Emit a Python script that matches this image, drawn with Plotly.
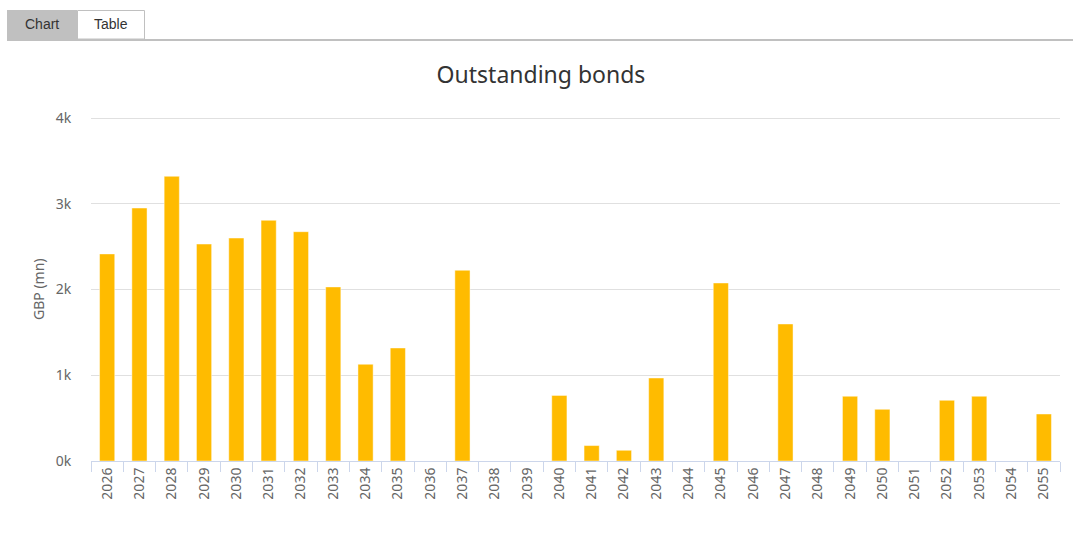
import plotly.graph_objects as go

years = [str(y) for y in range(2026, 2056)]
values = [2415, 2950, 3320, 2530, 2600, 2807, 2674, 2030, 1128, 1318,
          0, 2224, 0, 0, 765, 180, 125, 968, 0, 2076,
          0, 1598, 0, 755, 603, 0, 708, 755, 0, 548]
y_tickvals = [0, 1000, 2000, 3000, 4000]
y_ticktext = ["0k", "1k", "2k", "3k", "4k"]
title_text = "Outstanding bonds"
y_title = "GBP (mn)"
tab_labels = ["Chart", "Table"]

W, H = 1082, 537
ML, MR, MT, MB = 91, 22, 118, 76
PW, PH = W - ML - MR, H - MT - MB


def px_x(px):
    return (px - ML) / PW


def px_y(py):
    return (H - MB - py) / PH


FONT = "Noto Sans"

fig = go.Figure()
fig.add_trace(go.Bar(
    x=years, y=values,
    marker=dict(color="#ffbb00", line=dict(color="rgba(255,255,255,0.45)", width=1)),
    hoverinfo="x+y",
))

shapes = [
    dict(type="rect", xref="paper", yref="paper", x0=px_x(7), x1=px_x(77), y0=px_y(40), y1=px_y(10),
         fillcolor="#c0c0c0", line=dict(width=0), layer="above"),
    dict(type="rect", xref="paper", yref="paper", x0=px_x(77.5), x1=px_x(144.5), y0=px_y(39), y1=px_y(10.5),
         fillcolor="white", line=dict(color="#c0c0c0", width=1), layer="above"),
    dict(type="rect", xref="paper", yref="paper", x0=px_x(7), x1=px_x(1073), y0=px_y(41), y1=px_y(39),
         fillcolor="#c0c0c0", line=dict(width=0), layer="above"),
    # top gridline at 4k (plotly omits the gridline on the range edge)
    dict(type="line", xref="paper", yref="paper", x0=0, x1=1, y0=px_y(118.5), y1=px_y(118.5),
         line=dict(color="#e0e0e0", width=1), layer="below"),
]

annotations = [
    dict(text=tab_labels[0], xref="paper", yref="paper", x=px_x(42), y=px_y(24), showarrow=False,
         font=dict(family="Liberation Sans, Arial", size=14, color="#333333"), xanchor="center", yanchor="middle"),
    dict(text=tab_labels[1], xref="paper", yref="paper", x=px_x(111), y=px_y(24), showarrow=False,
         font=dict(family="Liberation Sans, Arial", size=14, color="#333333"), xanchor="center", yanchor="middle"),
    dict(text=y_title, xref="paper", yref="paper", x=px_x(38), y=px_y(289), showarrow=False, textangle=-90,
         font=dict(family=FONT, size=14, color="#666666"), xanchor="center", yanchor="middle"),
]

fig.update_layout(
    width=W, height=H,
    margin=dict(l=ML, r=MR, t=MT, b=MB, pad=0),
    paper_bgcolor="white", plot_bgcolor="white",
    title=dict(text=title_text, x=0.5, xref="container", xanchor="center", y=1 - 75 / H, yanchor="middle",
               font=dict(family=FONT, size=23, color="#333333")),
    showlegend=False,
    bargap=0.53,
    shapes=shapes,
    annotations=annotations,
    font=dict(family=FONT, color="#666666", size=14),
)

fig.update_xaxes(
    type="category", tickangle=-90,
    tickson="boundaries", ticks="outside", ticklen=10, tickcolor="#ccd6eb", tickwidth=1,
    showline=True, linecolor="#ccd6eb", linewidth=1,
    showgrid=False, tickfont=dict(family=FONT, size=14, color="#666666"),
)
fig.update_yaxes(
    range=[0, 4000], tickvals=y_tickvals, ticktext=y_ticktext,
    showgrid=True, gridcolor="#e0e0e0", gridwidth=1, zeroline=False,
    showline=False, ticks="outside", ticklen=16, tickcolor="rgba(0,0,0,0)",
    tickfont=dict(family=FONT, size=14, color="#666666"),
)

fig.write_html("out.html")
